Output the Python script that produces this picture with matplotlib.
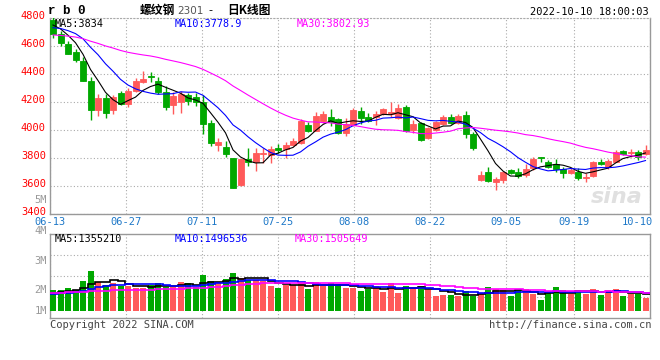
import numpy as np
import pandas as pd
import matplotlib
matplotlib.use("Agg")
import matplotlib.pyplot as plt
from matplotlib.transforms import ScaledTranslation

# ---------------- data ----------------
opens = [4790, 4690, 4617, 4560, 4497, 4352, 4145, 4229, 4148, 4264,
         4186, 4281, 4348, 4388, 4352, 4271, 4181, 4200, 4252, 4240,
         4200, 4050, 3898, 3881, 3800, 3610, 3795, 3776, 3829, 3824,
         3874, 3864, 3895, 3907, 4038, 3998, 4067, 4095, 4079, 3979,
         4038, 4138, 4093, 4098, 4117, 4117, 4086, 4167, 4002, 4055,
         3948, 4000, 4043, 4095, 4055, 4110, 3976, 3645, 3700, 3628,
         3645, 3717, 3705, 3681, 3733, 3807, 3776, 3760, 3724, 3693,
         3705, 3657, 3676, 3776, 3740, 3776, 3855, 3836, 3848, 3829]
highs = [4815, 4712, 4638, 4582, 4521, 4379, 4257, 4257, 4252, 4281,
         4300, 4375, 4424, 4417, 4381, 4319, 4271, 4281, 4264, 4264,
         4252, 4074, 3943, 3924, 3800, 3798, 3876, 3876, 3871, 3888,
         3900, 3919, 3948, 4081, 4057, 4133, 4138, 4150, 4090, 4090,
         4157, 4167, 4121, 4138, 4162, 4200, 4190, 4181, 4071, 4062,
         4026, 4067, 4110, 4119, 4119, 4138, 3986, 3710, 3738, 3669,
         3710, 3724, 3729, 3757, 3812, 3812, 3788, 3795, 3740, 3733,
         3729, 3693, 3781, 3795, 3795, 3860, 3860, 3867, 3860, 3895]
lows = [4662, 4603, 4543, 4490, 4350, 4074, 4105, 4090, 4117, 4180,
        4169, 4270, 4338, 4348, 4257, 4145, 4114, 4126, 4181, 4176,
        3971, 3890, 3852, 3810, 3585, 3605, 3748, 3712, 3769, 3764,
        3836, 3805, 3890, 3900, 3986, 3995, 4050, 4033, 3971, 3962,
        4031, 4043, 4057, 4038, 4110, 4098, 4081, 3986, 3979, 3924,
        3940, 3995, 4035, 4043, 4048, 3948, 3860, 3640, 3633, 3574,
        3621, 3690, 3657, 3669, 3717, 3776, 3729, 3700, 3662, 3688,
        3645, 3633, 3669, 3752, 3724, 3770, 3824, 3812, 3788, 3824]
closes = [4688, 4622, 4548, 4502, 4355, 4145, 4228, 4126, 4240, 4186,
          4281, 4352, 4366, 4378, 4271, 4169, 4248, 4257, 4210, 4200,
          4048, 3912, 3917, 3833, 3590, 3795, 3776, 3840, 3840, 3864,
          3862, 3895, 3926, 4067, 3995, 4105, 4114, 4057, 3979, 4045,
          4145, 4090, 4067, 4117, 4152, 4129, 4162, 3995, 4048, 3931,
          4019, 4057, 4095, 4055, 4102, 3971, 3876, 3681, 3638, 3650,
          3700, 3698, 3676, 3724, 3795, 3802, 3740, 3724, 3693, 3717,
          3662, 3669, 3776, 3760, 3781, 3845, 3829, 3845, 3812, 3860]
# closes before the window (needed so the moving averages start where the chart shows them)
prev_closes = [4720, 4705, 4690, 4710, 4680, 4700, 4675, 4690, 4700, 4680,
               4650, 4630, 4600, 4585, 4570, 4590, 4610, 4625, 4640, 4650,
               4680, 4700, 4715, 4725, 4750, 4760, 4775, 4770, 4767]

# volume in millions of lots
volumes = [1.70, 1.70, 1.86, 1.70, 2.43, 3.25, 2.35, 2.11, 2.27, 2.02,
           2.02, 1.86, 1.86, 2.11, 2.27, 1.94, 1.94, 2.35, 2.27, 1.94,
           2.93, 2.43, 2.35, 2.60, 3.09, 2.68, 2.52, 2.52, 2.43, 2.02,
           1.86, 2.11, 2.11, 2.27, 1.78, 2.35, 2.02, 2.27, 2.19, 1.86,
           1.86, 1.61, 1.78, 2.02, 1.53, 2.27, 1.45, 2.02, 1.86, 2.02,
           1.70, 1.20, 1.29, 1.29, 1.20, 1.61, 1.20, 1.37, 1.94, 1.78,
           1.70, 1.20, 1.78, 1.78, 1.37, 0.88, 1.53, 1.94, 1.70, 1.37,
           1.70, 1.37, 1.78, 1.29, 1.70, 1.78, 1.20, 1.37, 1.37, 1.04]
prev_volumes = [1.45, 1.62, 1.58, 1.40, 1.55, 1.70, 1.48, 1.52, 1.60, 1.43,
                1.50, 1.65, 1.47, 1.55, 1.58, 1.42, 1.50, 1.62, 1.56, 1.52,
                1.25, 1.35, 1.22, 1.33, 1.30, 1.42, 1.35, 1.40, 1.38]

tick_labels = ["06-13", "06-27", "07-11", "07-25", "08-08", "08-22", "09-05", "09-19", "10-10"]
tick_days = [0, 10, 20, 30, 40, 50, 60, 69, 79]
price_ticks = [3400, 3600, 3800, 4000, 4200, 4400, 4600, 4800]
vol_labels = ["5M", "4M", "3M", "2M", "1M"]

title_name = "螺纹钢"
title_code = "2301"
title_rest = "日K线图"
symbol = "r b 0"
timestamp = "2022-10-10 18:00:03"
ma_text = ["MA5:3834", "MA10:3778.9", "MA30:3802.93"]
vol_ma_text = ["MA5:1355210", "MA10:1496536", "MA30:1505649"]

# ---------------- styles ----------------
RED = "#FF5A5A"
GREEN = "#00A800"
MA_COLORS = ["#000000", "#0000FF", "#FF00FF"]
GRID = "#AAAAAA"
BORDER = "#999999"
MONO = "DejaVu Sans Mono"

W, H = 660, 360
fig = plt.figure(figsize=(W / 100, H / 100), dpi=100)
fig.patch.set_facecolor("white")

def fx(x):
    return x / W

def fy(y):
    return 1 - y / H

N = len(closes)
idx = np.arange(N)
o = np.array(opens, float)
c = np.array(closes, float)
hi = np.array(highs, float)
lo = np.array(lows, float)
up = c >= o
cols = [RED if u else GREEN for u in up]

all_close = pd.Series(prev_closes + closes, dtype=float)
ma = [all_close.rolling(n).mean().to_numpy()[-N:] for n in (5, 10, 30)]
all_vol = pd.Series(prev_volumes + volumes, dtype=float)
vma = [all_vol.rolling(n).mean().to_numpy()[-N:] for n in (5, 10, 30)]

tick_pos = np.array(tick_days) * N / (N - 1)

# ---------------- price panel ----------------
ax = fig.add_axes([fx(50), fy(214.3), fx(600), 196 / H])
ax.set_xlim(0, N)
ax.set_ylim(3400, 4800)
for sp in ("left", "right", "bottom"):
    ax.spines[sp].set_color(BORDER)
    ax.spines[sp].set_linewidth(1)
ax.spines["top"].set_color(GRID)
ax.spines["top"].set_linestyle((0, (1, 2)))

ax.set_yticks(price_ticks)
ax.set_yticklabels([str(p) for p in price_ticks], fontfamily=MONO, fontsize=7.5, color="#FF0000")
ax.set_xticks(tick_pos)
ax.set_xticklabels(tick_labels, fontfamily=MONO, fontsize=7.5, color="#1E78C8")
ax.tick_params(length=0, pad=3)
ax.tick_params(axis="x", pad=2)
for lab in ax.get_yticklabels():
    lab.set_transform(lab.get_transform() + ScaledTranslation(0, 2.5 / 72, fig.dpi_scale_trans))
xl = ax.get_xticklabels()
xl[-1].set_horizontalalignment("right")
xl[-1].set_transform(xl[-1].get_transform() + ScaledTranslation(2 / 72, 0, fig.dpi_scale_trans))
ax.grid(True, color=GRID, linestyle=(0, (1, 2)), linewidth=0.8)
ax.set_axisbelow(True)

# wicks and bodies
ax.vlines(idx + 0.4, lo, hi, colors=cols, linewidth=1, zorder=3)
ax.bar(idx + 0.4, np.abs(c - o), bottom=np.minimum(o, c), width=0.8,
       color=cols, edgecolor=cols, linewidth=0.6, zorder=4)
for m, col in zip(ma, MA_COLORS):
    ax.plot(idx + 0.4, m, color=col, linewidth=0.8, zorder=5)

ax.text(0.945, 0.09, "sina", transform=ax.transAxes, fontsize=16, fontweight="bold",
        style="italic", color="#E0E0E0", ha="center", va="center", zorder=1)

# ---------------- volume panel ----------------
vax = fig.add_axes([fx(50), fy(317.7), fx(600), 83.4 / H])
vax.set_xlim(0, N)
v_lo, v_hi = -0.574, 6.262
vax.set_ylim(v_lo, v_hi)
for sp in vax.spines.values():
    sp.set_color(BORDER)
    sp.set_linewidth(1)
vax.set_xticks(tick_pos)
vax.set_yticks(np.linspace(v_lo, v_hi, 5)[1:-1])
vax.tick_params(length=0, labelbottom=False, labelleft=False)
vax.grid(True, color=GRID, linestyle=(0, (1, 2)), linewidth=0.8)
vax.set_axisbelow(True)
vax.bar(idx + 0.4, volumes, width=0.8, color=cols, linewidth=0, zorder=3)
edges = np.append(idx, N)
for m, col in zip(vma, MA_COLORS):
    vax.stairs(m, edges, color=col, linewidth=1.2, zorder=4, baseline=None)

# volume axis labels (gray)
for lab, ypx in zip(vol_labels, [200, 230.7, 260.7, 290, 310.7]):
    fig.text(fx(47), fy(ypx), lab, fontfamily=MONO, fontsize=7.5, color="#999999",
             ha="right", va="center")

# ---------------- header texts ----------------
fig.text(fx(48), fy(10.5), symbol, fontfamily="Liberation Mono", fontweight="bold",
         fontsize=9, color="black", ha="left", va="center")
fig.text(fx(140), fy(10.5), title_name, fontfamily="Noto Sans CJK SC", fontsize=8.5,
         fontweight="bold", color="black", ha="left", va="center")
fig.text(fx(177), fy(10.5), title_code, fontfamily="DejaVu Sans", fontsize=7.5,
         color="#555555", ha="left", va="center")
fig.text(fx(208), fy(10.5), "-", fontfamily="DejaVu Sans", fontsize=8,
         color="black", ha="left", va="center")
fig.text(fx(227), fy(10.5), title_rest, fontfamily="Noto Sans CJK SC", fontsize=8.5,
         fontweight="bold", color="black", ha="left", va="center")
fig.text(fx(649), fy(11.7), timestamp, fontfamily=MONO, fontsize=7.5, color="black",
         ha="right", va="center")

for t, xp, col in zip(ma_text, [55, 175, 297], MA_COLORS):
    fig.text(fx(xp), fy(24.3), t, fontfamily=MONO, fontsize=7.3, color=col, ha="left", va="center")
for t, xp, col in zip(vol_ma_text, [55, 175, 295], MA_COLORS):
    fig.text(fx(xp), fy(239.5), t, fontfamily=MONO, fontsize=7.3, color=col, ha="left", va="center")

fig.text(fx(50), fy(325), "Copyright 2022 SINA.COM", fontfamily=MONO, fontsize=7.5,
         color="#444444", ha="left", va="center")
fig.text(fx(651), fy(325), "http://finance.sina.com.cn", fontfamily=MONO, fontsize=7.5,
         color="#444444", ha="right", va="center")

fig.savefig("out.png", dpi=100, facecolor="white")
